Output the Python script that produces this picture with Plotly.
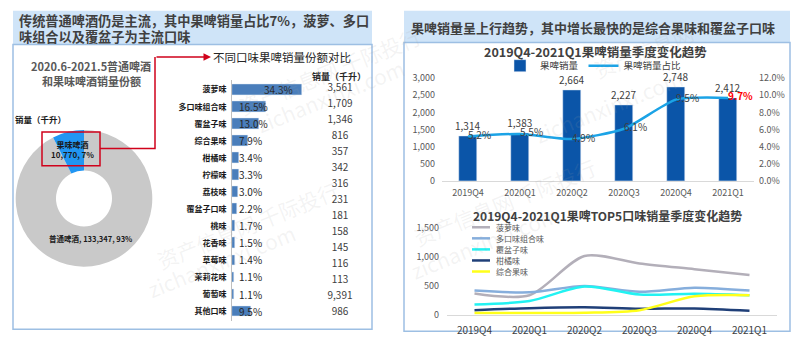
import plotly.graph_objects as go

W, H = 800, 341
FONT = "Noto Sans CJK SC"

# ---- data -------------------------------------------------------------
pie_labels = ["果味啤酒", "普通啤酒"]
pie_values = [10770, 133347]
pie_pcts = [7, 93]

flavors = ["菠萝味", "多口味组合味", "覆盆子味", "综合果味", "柑橘味", "柠檬味", "荔枝味",
           "覆盆子口味", "桃味", "花香味", "草莓味", "茉莉花味", "葡萄味", "其他口味"]
flavor_share = [34.3, 16.5, 13.0, 7.9, 3.4, 3.3, 3.0, 2.2, 1.7, 1.5, 1.4, 1.1, 1.1, 9.5]
flavor_volume = [3561, 1709, 1346, 816, 357, 342, 316, 231, 181, 158, 145, 116, 113, 9391, 986]

quarters = ["2019Q4", "2020Q1", "2020Q2", "2020Q3", "2020Q4", "2021Q1"]
fruit_volume = [1314, 1383, 2664, 2227, 2748, 2412]
fruit_share = [5.2, 5.5, 4.9, 6.1, 9.5, 9.7]

top5_names = ["菠萝味", "多口味组合味", "覆盆子味", "柑橘味", "综合果味"]
pineapple = [370, 340, 1020, 890, 790, 690]
multi_mix = [420, 390, 500, 400, 470, 420]
raspberry = [180, 240, 490, 350, 365, 340]
citrus = [80, 115, 130, 105, 110, 70]
mixed_fruit = [30, 30, 35, 80, 320, 340]
top5_values = [pineapple, multi_mix, raspberry, citrus, mixed_fruit]
top5_colors = ["#B3AFB9", "#86AEDC", "#22F2F2", "#1F3F78", "#FFFF1A"]


def px(x):
    return x / W


def py(y):
    return 1 - y / H


fig = go.Figure()

# ---- donut: regular vs fruit beer ------------------------------------
# slices listed regular-first so the fruit-beer wedge ends at 12 o'clock
cx, cy, r = 84, 199, 71
fig.add_trace(go.Pie(
    labels=pie_labels[::-1], values=pie_values[::-1], hole=0.41, sort=False,
    direction="counterclockwise", rotation=0, textinfo="none",
    hoverinfo="skip", showlegend=False,
    marker=dict(colors=["#C9C9C9", "#2196F3"], line=dict(width=0)),
    domain=dict(x=[px(cx - r), px(cx + r)], y=[py(cy + r), py(cy - r)]),
))

# ---- flavour share bars ----------------------------------------------
row_top, row_step = 85, 17.85
n_rows = len(flavors)
fig.add_trace(go.Bar(
    x=flavor_share, y=flavors, orientation="h", xaxis="x2", yaxis="y2",
    marker=dict(color="#4A7EBB"), width=0.62, showlegend=False, hoverinfo="skip",
))

# ---- volume column -----------------------------------------------------
vol_top, vol_step = 85, 16.64
fig.add_trace(go.Scatter(
    x=[0] * len(flavor_volume), y=list(range(len(flavor_volume))),
    text=[f"{v:,}" for v in flavor_volume], mode="text", xaxis="x3", yaxis="y3",
    textfont=dict(size=10, color="#404040", family=FONT), showlegend=False, hoverinfo="skip",
))

# ---- quarterly volume and share -------------------------------------
share_text = [f"{v:.1f}%" for v in fruit_share]
share_text[-1] = f"<b>{share_text[-1]}</b>"
share_colors = ["#404040"] * (len(fruit_share) - 1) + ["#FF0000"]
fig.add_trace(go.Bar(
    x=quarters, y=fruit_volume, name="果啤销量", xaxis="x4", yaxis="y4",
    marker=dict(color="#0B55A8"), width=0.33,
    text=[f"{v:,}" for v in fruit_volume], textposition="outside", cliponaxis=False,
    constraintext="none", textfont=dict(size=10, color="#404040", family=FONT),
    hoverinfo="skip",
))
fig.add_trace(go.Scatter(
    x=quarters, y=[v / 100 for v in fruit_share], name="果啤销量占比", xaxis="x4", yaxis="y5",
    mode="lines+text", line=dict(color="#1BA3E6", width=2.5, shape="spline", smoothing=0.6),
    text=share_text, textposition="middle right",
    textfont=dict(size=10, color=share_colors, family=FONT), cliponaxis=False, hoverinfo="skip",
))

# ---- top-5 flavours by quarter -------------------------------------
for name, vals, col in zip(top5_names, top5_values, top5_colors):
    fig.add_trace(go.Scatter(
        x=quarters, y=vals, name=name, xaxis="x6", yaxis="y6", mode="lines",
        line=dict(color=col, width=2.5, shape="spline", smoothing=0.8),
        showlegend=False, hoverinfo="skip",
    ))

# ---- axes -----------------------------------------------------------------
hidden = dict(visible=False, showgrid=False, zeroline=False)
tick_grey = dict(size=9, color="#595959", family=FONT)

bar_dom = [py(row_top + row_step * (n_rows - 0.5)), py(row_top - row_step * 0.5)]
vol_dom = [py(vol_top + vol_step * (len(flavor_volume) - 0.5)), py(vol_top - vol_step * 0.5)]

fig.update_layout(
    xaxis2=dict(domain=[px(232), px(314)], range=[0, 40], anchor="y2", **hidden),
    yaxis2=dict(domain=bar_dom, anchor="x2", autorange="reversed", showgrid=False,
                zeroline=False, showline=True, linecolor="#BFBFBF", linewidth=1,
                ticks="", ticklabelstandoff=3,
                tickfont=dict(size=8, color="#1A1A1A", family=FONT, weight="bold")),
    xaxis3=dict(domain=[px(320), px(360)], range=[-1, 1], anchor="y3", **hidden),
    yaxis3=dict(domain=vol_dom, range=[len(flavor_volume) - 0.5, -0.5], anchor="x3", **hidden),
    xaxis4=dict(domain=[px(442), px(754)], anchor="y4", showgrid=False, zeroline=False,
                showline=True, linecolor="#D9D9D9", ticks="", tickfont=tick_grey,
                ticklabelstandoff=3),
    yaxis4=dict(domain=[py(181), py(74)], range=[0, 3000], anchor="x4", showgrid=False,
                zeroline=False, tickvals=[0, 500, 1000, 1500, 2000, 2500, 3000],
                tickformat=",", tickfont=tick_grey, ticklabelstandoff=6),
    yaxis5=dict(domain=[py(181), py(74)], range=[0, 0.12], anchor="x4", overlaying="y4",
                side="right", showgrid=False, zeroline=False, tickformat=".1%",
                dtick=0.02, tickfont=tick_grey, ticklabelstandoff=4),
    xaxis6=dict(domain=[px(447), px(777)], anchor="y6", range=[-0.5, len(quarters) - 0.5],
                showgrid=False, zeroline=False, showline=True, linecolor="#D9D9D9", ticks="",
                tickfont=dict(size=10, color="#404040", family=FONT), ticklabelstandoff=6),
    yaxis6=dict(domain=[py(320), py(230)], range=[0, 1500], anchor="x6", showgrid=False,
                zeroline=False, tickvals=[0, 500, 1000, 1500], tickformat=",",
                tickfont=tick_grey, ticklabelstandoff=7),
)

# ---- panels, frames and connector ----------------------------------------
shapes = []
band = "#CFE4F8"
frame = "#9DBFE3"
shapes.append(dict(type="rect", xref="paper", yref="paper", x0=px(13), x1=px(372),
                   y0=py(39), y1=py(4), fillcolor=band, line=dict(width=0), layer="below"))
shapes.append(dict(type="rect", xref="paper", yref="paper", x0=px(13), x1=px(372),
                   y0=py(335), y1=py(39), line=dict(color=frame, width=1.5), layer="below"))
shapes.append(dict(type="rect", xref="paper", yref="paper", x0=px(404), x1=px(790),
                   y0=py(37), y1=py(4), fillcolor=band, line=dict(width=0), layer="below"))
shapes.append(dict(type="rect", xref="paper", yref="paper", x0=px(404), x1=px(790),
                   y0=py(337), y1=py(37), line=dict(color=frame, width=1.5), layer="below"))
red = "#D0021B"
shapes.append(dict(type="rect", xref="paper", yref="paper", x0=px(42), x1=px(100),
                   y0=py(165), y1=py(130), line=dict(color=red, width=1.5)))
shapes.append(dict(type="path", xref="paper", yref="paper",
                   path=f"M {px(100)} {py(147)} L {px(155)} {py(147)} L {px(155)} {py(52)}",
                   line=dict(color=red, width=1.5)))

# manual legend for the top-5 flavour lines
leg_y0, leg_step = 229, 11.5
annotations = []
for i, (name, col) in enumerate(zip(top5_names, top5_colors)):
    yy = leg_y0 + i * leg_step
    shapes.append(dict(type="line", xref="paper", yref="paper", x0=px(472), x1=px(490),
                       y0=py(yy), y1=py(yy), line=dict(color=col, width=2.5)))
    annotations.append(dict(xref="paper", yref="paper", x=px(494), y=py(yy), text=name,
                            showarrow=False, xanchor="left", yanchor="middle",
                            font=dict(size=8, color="#595959", family=FONT)))


def txt(x, y, s, size, color="#404040", bold=False, xanchor="center", **kw):
    annotations.append(dict(xref="paper", yref="paper", x=px(x), y=py(y), text=s,
                            showarrow=False, xanchor=xanchor, yanchor="middle",
                            font=dict(size=size, color=color, family=FONT,
                                      weight="bold" if bold else "normal"), **kw))


# headers
txt(17, 14, "传统普通啤酒仍是主流，其中果啤销量占比7%，菠萝、多口", 13.2, bold=True, xanchor="left")
txt(17, 31, "味组合以及覆盆子为主流口味", 13.2, bold=True, xanchor="left")
txt(409, 21, "果啤销量呈上行趋势，其中增长最快的是综合果味和覆盆子口味", 13, bold=True, xanchor="left")

# left panel texts
txt(91, 61, "2020.6-2021.5普通啤酒", 11, color="#595959", bold=True)
txt(91, 77, "和果味啤酒销量份额", 11, color="#595959", bold=True)
txt(13, 116, "销量（千升）", 8.5, color="#1A1A1A", bold=True, xanchor="left")
txt(72, 148, f"{pie_labels[0]}<br>{pie_values[0]:,}, {pie_pcts[0]}%", 8,
    color="#1A1A1A", bold=True)
txt(90, 241, f"{pie_labels[1]}, {pie_values[1]:,}, {pie_pcts[1]}%", 7.5,
    color="#1A1A1A", bold=True)
txt(282, 52, "不同口味果啤销量份额对比", 11.5, color="#262626")
txt(339, 72, "销量（千升）", 9, color="#262626", bold=True)
annotations.append(dict(xref="paper", yref="paper", x=px(211), y=py(52), ax=-56, ay=0,
                        axref="pixel", ayref="pixel", text="", showarrow=True,
                        arrowhead=2, arrowsize=1, arrowwidth=1.5, arrowcolor=red))

# share labels on the flavour bars
for i, v in enumerate(flavor_share):
    big = v > 30
    annotations.append(dict(xref="x2", yref="y2", x=v * 0.66 if big else 0, y=flavors[i],
                            text=f"{v:.1f}%", showarrow=False,
                            xanchor="center" if big else "left", xshift=0 if big else 5,
                            font=dict(size=10, color="#262626", family=FONT)))

# right panel titles
txt(595, 46, "2019Q4-2021Q1果啤销量季度变化趋势", 12.5, bold=True)
txt(607, 217, "2019Q4-2021Q1果啤TOP5口味销量季度变化趋势", 12, bold=True)

# faint site watermark
wm = dict(size=21, color="rgba(160,160,160,0.13)", family=FONT)
for (x, y, s) in [(150, 282, "资产信息网 千际投行"), (140, 312, "zichanxinxi.com"),
                  (505, 258, "资产信息网 千际投行"), (485, 292, "zichanxinxi.com"),
                  (330, 12, "资产信息网 千际投行"), (330, 45, "zichanxinxi.com"),
                  (700, 8, "资产信息网"), (690, 55, "zichanxinxi.com")]:
    annotations.append(dict(xref="paper", yref="paper", x=px(x), y=py(y), text=s,
                            showarrow=False, textangle=-22, font=wm))

fig.update_layout(
    width=W, height=H, margin=dict(l=0, r=0, t=0, b=0),
    paper_bgcolor="white", plot_bgcolor="rgba(0,0,0,0)",
    font=dict(family=FONT, color="#404040"),
    shapes=shapes, annotations=annotations, bargap=0,
    legend=dict(orientation="h", x=px(500), y=py(61), xanchor="left", yanchor="middle",
                font=dict(size=9.5, color="#404040", family=FONT),
                bgcolor="rgba(0,0,0,0)", itemwidth=30),
)

fig.write_html("out.html")
